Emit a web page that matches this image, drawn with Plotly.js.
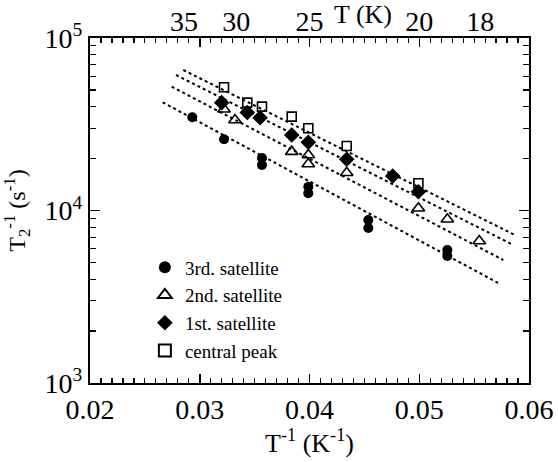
<!DOCTYPE html>
<html>
<head>
<meta charset="utf-8">
<script src="https://cdn.plot.ly/plotly-3.0.1.min.js"></script>
<style>html,body{margin:0;padding:0;background:#fff;}#chart{width:558px;height:462px;}</style>
</head>
<body>
<div id="chart"></div>
<script>
// ---- data ----
const sat3X = [0.02932, 0.03221, 0.03567, 0.03567, 0.03989, 0.03989, 0.04536, 0.04536, 0.05256, 0.05256];
const sat3Y = [34700, 25860, 20150, 18360, 13740, 12580, 8810, 7920, 5900, 5450];

const sat2X = [0.03221, 0.03321, 0.03838, 0.03989, 0.03989, 0.04339, 0.04992, 0.05256, 0.05547];
const sat2Y = [38600, 33480, 21930, 20980, 18610, 16560, 10300, 8890, 6660];

const sat1X = [0.03200, 0.03433, 0.03550, 0.03838, 0.03989, 0.04339, 0.04758, 0.04992];
const sat1Y = [42200, 37000, 34500, 27400, 24850, 19810, 15850, 12850];

const centralX = [0.03221, 0.03433, 0.03567, 0.03838, 0.03989, 0.04339, 0.04992];
const centralY = [51800, 42200, 40000, 35000, 29960, 23650, 14380];

// dotted fit lines (end points)
const fitCentralX = [0.02850, 0.05872];
const fitCentralY = [65240, 7210];
const fit1X = [0.02784, 0.05857];
const fit1Y = [61030, 6310];
const fit2X = [0.02744, 0.05766];
const fit2Y = [52220, 5165];
const fit3X = [0.02662, 0.05736];
const fit3Y = [42390, 3750];

const xTickVals = [0.02, 0.025, 0.03, 0.035, 0.04, 0.045, 0.05, 0.055, 0.06];
const xTickText = ['0.02', '', '0.03', '', '0.04', '', '0.05', '', '0.06'];
const topTemps = [35, 30, 25, 20, 18];
const yTickVals = [1000, 10000, 100000];
const yTickText = ['10<sup>3</sup>', '10<sup>4</sup>', '10<sup>5</sup>'];
const legendNames = ['3rd. satellite', '2nd. satellite', '1st. satellite', 'central peak'];

// ---- build ----
const xMinor = [];
for (let i = 20; i <= 60; i++) xMinor.push(i / 1000);
const yMinor = [];
[1000, 10000].forEach(d => { for (let k = 2; k <= 9; k++) yMinor.push(k * d); });

const F = '"Liberation Serif", "DejaVu Serif"';
const lineStyle = {color: '#000', width: 2, dash: '3px,3px'};
function fit(x, y) {
  return {x: x, y: y, mode: 'lines', line: lineStyle, showlegend: false, hoverinfo: 'skip'};
}

const traces = [
  fit(fitCentralX, fitCentralY), fit(fit1X, fit1Y), fit(fit2X, fit2Y), fit(fit3X, fit3Y),
  {x: sat3X, y: sat3Y, mode: 'markers', name: legendNames[0],
   marker: {symbol: 'circle', size: 10, color: '#000'}},
  {x: sat2X, y: sat2Y, mode: 'markers', name: legendNames[1],
   marker: {symbol: 'triangle-up-open', size: 11, color: '#000', line: {width: 1.6, color: '#000'}}},
  {x: sat1X, y: sat1Y, mode: 'markers', name: legendNames[2],
   marker: {symbol: 'diamond', size: 12, color: '#000'}},
  {x: centralX, y: centralY, mode: 'markers', name: legendNames[3],
   marker: {symbol: 'square-open', size: 9, color: '#000', line: {width: 1.6, color: '#000'}}},
  {x: topTemps.map(t => 1 / t), y: topTemps.map(() => 10000), xaxis: 'x2', mode: 'markers',
   marker: {opacity: 0}, showlegend: false, hoverinfo: 'skip'}
];

const layout = {
  width: 558, height: 462,
  margin: {l: 90, r: 29, t: 38, b: 79},
  paper_bgcolor: '#fff', plot_bgcolor: '#fff',
  font: {family: F, color: '#000', size: 24},
  showlegend: true,
  legend: {x: 0.125, y: 0.39, xanchor: 'left', yanchor: 'top', bgcolor: 'rgba(0,0,0,0)',
           font: {family: F, size: 19, color: '#000'}, itemsizing: 'constant', tracegroupgap: 0},
  xaxis: {
    range: [0.02, 0.06], showgrid: false, zeroline: false,
    showline: true, linecolor: '#000', linewidth: 2, mirror: 'ticks',
    ticks: 'inside', ticklen: 9, tickwidth: 1.5, tickcolor: '#000',
    tickmode: 'array', tickvals: xTickVals, ticktext: xTickText,
    tickfont: {family: F, size: 28, color: '#000'},
    minor: {ticks: 'inside', ticklen: 5, tickwidth: 1.2, tickcolor: '#000', tickmode: 'array', tickvals: xMinor},
    title: {text: 'T<sup>-1</sup> (K<sup>-1</sup>)', font: {family: F, size: 26, color: '#000'}, standoff: 6}
  },
  xaxis2: {
    range: [0.02, 0.06], overlaying: 'x', side: 'top', anchor: 'y',
    showgrid: false, zeroline: false, showline: false, ticks: '',
    tickmode: 'array', tickvals: topTemps.map(t => 1 / t), ticktext: topTemps.map(String),
    tickfont: {family: F, size: 28, color: '#000'}
  },
  yaxis: {
    type: 'log', range: [3, 5], showgrid: false, zeroline: false,
    showline: true, linecolor: '#000', linewidth: 2, mirror: 'ticks',
    ticks: 'inside', ticklen: 10, tickwidth: 1.5, tickcolor: '#000',
    tickmode: 'array', tickvals: yTickVals, ticktext: yTickText,
    tickfont: {family: F, size: 28, color: '#000'},
    minor: {ticks: 'inside', ticklen: 6, tickwidth: 1.2, tickcolor: '#000', tickmode: 'array', tickvals: yMinor},
    title: {text: 'T<sub>2</sub><sup>-1</sup> (s<sup>-1</sup>)', font: {family: F, size: 24, color: '#000'}, standoff: 12}
  },
  annotations: [{
    text: 'T (K)', xref: 'paper', yref: 'paper', x: 0.622, y: 1, yshift: 24,
    xanchor: 'center', yanchor: 'middle', showarrow: false,
    font: {family: F, size: 26, color: '#000'}
  }]
};

Plotly.newPlot('chart', traces, layout, {displayModeBar: false, staticPlot: true});
</script>
</body>
</html>
